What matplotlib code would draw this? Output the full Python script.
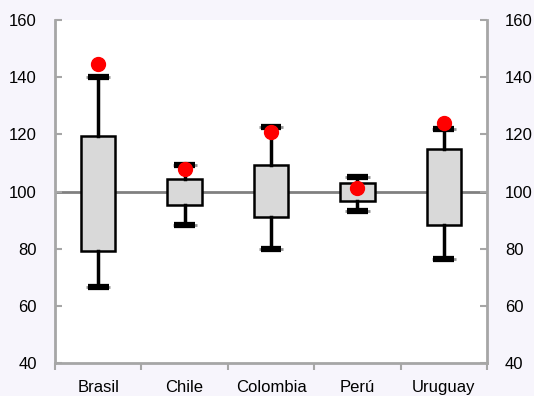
import matplotlib
matplotlib.use("Agg")
import matplotlib.pyplot as plt

plt.rcParams['font.family'] = ['Liberation Sans', 'DejaVu Sans']

paises = ['Brasil', 'Chile', 'Colombia', 'Perú', 'Uruguay']
minimo = [66.7, 88.3, 79.9, 93.2, 76.3]
q1 = [79.2, 95.3, 91.2, 96.7, 88.3]
q3 = [119.4, 104.4, 109.3, 103.1, 114.9]
maximo = [140.2, 109.3, 122.6, 105.2, 121.8]
actual = [144.8, 107.9, 120.8, 101.3, 124.1]

fig = plt.figure(figsize=(5.34, 3.96), dpi=100, facecolor='#F7F5FC')
ax = fig.add_axes([0.103, 0.0833, 0.809, 0.866])
ax.set_facecolor('white')

pos = list(range(len(paises)))

# linea de referencia en 100
ax.axhline(100, color='#808080', lw=2, zorder=1)

stats = []
for i in pos:
    stats.append({'med': q1[i], 'q1': q1[i], 'q3': q3[i],
                  'whislo': minimo[i], 'whishi': maximo[i], 'fliers': []})
ax.bxp(stats, positions=pos, widths=0.4, patch_artist=True,
       showcaps=False,
       boxprops=dict(facecolor='#D9D9D9', edgecolor='black', lw=1.8),
       whiskerprops=dict(color='black', lw=2.5),
       medianprops=dict(lw=0),
       zorder=3)

# topes de los bigotes
for i in pos:
    for v in (minimo[i], maximo[i]):
        ax.hlines(v, i - 0.14, i + 0.14, color='#909090', lw=2, zorder=3)
        ax.hlines(v, i - 0.12, i + 0.12, color='black', lw=4.5, zorder=4)

ax.plot(pos, actual, 'o', color='red', ms=10, zorder=5)

ax.set_xlim(-0.5, len(paises) - 0.5)
ax.set_ylim(40, 160)
ax.set_yticks(range(40, 161, 20))
ax.set_xticks([p - 0.5 for p in pos] + [len(paises) - 0.5])
ax.set_xticklabels([])
ax.set_xticks(pos, minor=True)
ax.set_xticklabels(paises, minor=True)
ax.tick_params(axis='x', which='minor', length=0, pad=12, labelsize=12)
ax.tick_params(axis='x', which='major', length=5, color='#A6A6A6', width=1.5)
ax.tick_params(axis='y', direction='in', length=5, color='#A6A6A6', width=1.5,
               labelsize=12, right=True, labelright=True, pad=13)

for s in ['left', 'right', 'bottom']:
    ax.spines[s].set_color('#A6A6A6')
    ax.spines[s].set_linewidth(2)
ax.spines['top'].set_visible(False)

fig.savefig('out.png', dpi=100, facecolor=fig.get_facecolor())
